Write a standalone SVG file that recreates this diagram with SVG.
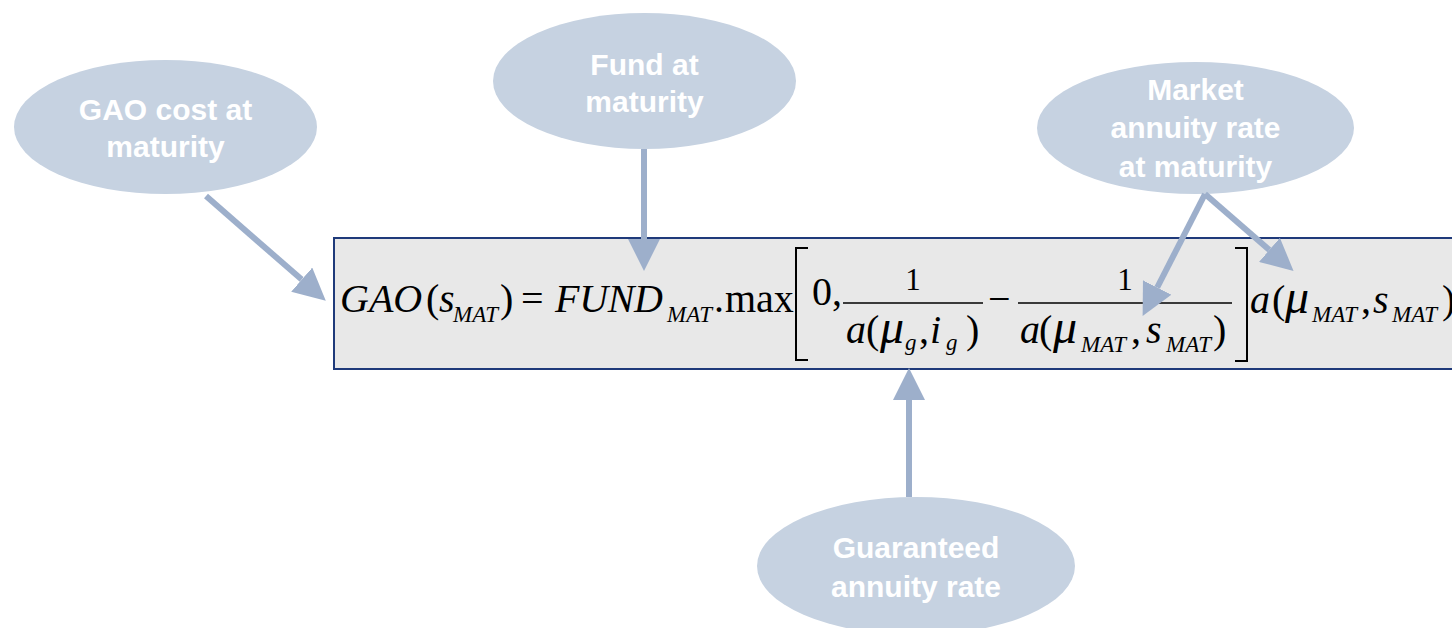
<svg xmlns="http://www.w3.org/2000/svg" width="1452" height="628" viewBox="0 0 1452 628">
<style>
.bub{fill:#C6D2E1}
.lbl{font-family:"Liberation Sans",Arial,sans-serif;font-weight:bold;font-size:30px;fill:#FFFFFF;text-anchor:middle}
.conn{stroke:#9DAFCB;stroke-width:6;fill:none}
.m{font-family:"Liberation Serif","Times New Roman",serif;font-size:40px;fill:#000}
.i{font-style:italic}
.s{font-size:23px;font-style:italic}
.mu{font-size:48px;font-style:italic}
.n{font-size:31px}
.rule{stroke:#000;stroke-width:1.6}
</style>
<defs>
<marker id="ah" markerUnits="userSpaceOnUse" markerWidth="32" markerHeight="32" viewBox="0 0 31 31" refX="0" refY="15.5" orient="auto">
<path d="M0,0 L31,15.5 L0,31 z" fill="#9DAFCB"/>
</marker>
</defs>
<g id="formula">
<rect x="334" y="238" width="1130" height="131" fill="#E8E8E8" stroke="#1F3A7A" stroke-width="2"/>
<text class="m">
<tspan x="340" y="312" class="i">GAO</tspan>
<tspan x="426" y="312">(</tspan>
<tspan x="439" y="312" class="i">s</tspan>
<tspan x="453" y="322" class="s">MAT</tspan>
<tspan x="500" y="312">)</tspan>
<tspan x="521" y="312">=</tspan>
<tspan x="667" y="322" class="s">MAT</tspan>
<tspan x="714" y="312">.</tspan>
<tspan x="725" y="312">max</tspan>
<tspan x="812" y="305">0,</tspan>
</text>
<text class="m i" x="555" y="312" textLength="108" lengthAdjust="spacing">FUND</text>
<path d="M808,248 H796 V360 H808 M1235,248 H1247 V361 H1235" stroke="#000" stroke-width="2" fill="none"/>
<line class="rule" x1="843" y1="303" x2="983" y2="303"/>
<text class="m n" x="913" y="290" text-anchor="middle">1</text>
<text class="m">
<tspan x="846" y="343" class="i">a</tspan>
<tspan x="866" y="343">(</tspan>
<tspan x="880" y="343" class="mu">μ</tspan>
<tspan x="905" y="350" class="s">g</tspan>
<tspan x="919" y="343">,</tspan>
<tspan x="930" y="343" class="i">i</tspan>
<tspan x="946" y="350" class="s">g</tspan>
<tspan x="966" y="343">)</tspan>
</text>
<text class="m" x="988" y="312">−</text>
<line class="rule" x1="1018" y1="303" x2="1232" y2="303"/>
<text class="m n" x="1125" y="290" text-anchor="middle">1</text>
<text class="m">
<tspan x="1020" y="343" class="i">a</tspan>
<tspan x="1039" y="343">(</tspan>
<tspan x="1053" y="343" class="mu">μ</tspan>
<tspan x="1081" y="352" class="s">MAT</tspan>
<tspan x="1131" y="343">,</tspan>
<tspan x="1146" y="343" class="i">s</tspan>
<tspan x="1166" y="352" class="s">MAT</tspan>
<tspan x="1213" y="343">)</tspan>
</text>
<text class="m">
<tspan x="1250" y="313" class="i">a</tspan>
<tspan x="1272" y="313">(</tspan>
<tspan x="1285" y="313" class="mu">μ</tspan>
<tspan x="1312" y="322" class="s">MAT</tspan>
<tspan x="1361" y="313">,</tspan>
<tspan x="1373" y="313" class="i">s</tspan>
<tspan x="1392" y="322" class="s">MAT</tspan>
<tspan x="1442" y="313">)</tspan>
</text>
</g>
<g id="n-gao">
<ellipse class="bub" cx="165.5" cy="127" rx="151.5" ry="67"/>
<text class="lbl" x="165.5" y="120">GAO cost at</text>
<text class="lbl" x="165.5" y="157">maturity</text>
</g>
<g id="n-fund">
<ellipse class="bub" cx="644.5" cy="81" rx="151.5" ry="68"/>
<text class="lbl" x="644.5" y="75">Fund at</text>
<text class="lbl" x="644.5" y="112">maturity</text>
</g>
<g id="n-market">
<ellipse class="bub" cx="1195.5" cy="128" rx="158.5" ry="66"/>
<text class="lbl" x="1195.5" y="100">Market</text>
<text class="lbl" x="1195.5" y="138">annuity rate</text>
<text class="lbl" x="1195.5" y="177">at maturity</text>
</g>
<g id="n-guar">
<ellipse class="bub" cx="916" cy="566" rx="159" ry="69"/>
<text class="lbl" x="916" y="558">Guaranteed</text>
<text class="lbl" x="916" y="597">annuity rate</text>
</g>
<g id="connectors">
<line class="conn" x1="206" y1="196" x2="301.7" y2="279.6" marker-end="url(#ah)"/>
<line class="conn" x1="644" y1="149" x2="644" y2="239" marker-end="url(#ah)"/>
<line class="conn" x1="1205" y1="194" x2="1157.2" y2="287.5" marker-end="url(#ah)"/>
<line class="conn" x1="1205" y1="194" x2="1269.4" y2="249.9" marker-end="url(#ah)"/>
<line class="conn" x1="909" y1="497" x2="909" y2="400" marker-end="url(#ah)"/>
</g>
</svg>
